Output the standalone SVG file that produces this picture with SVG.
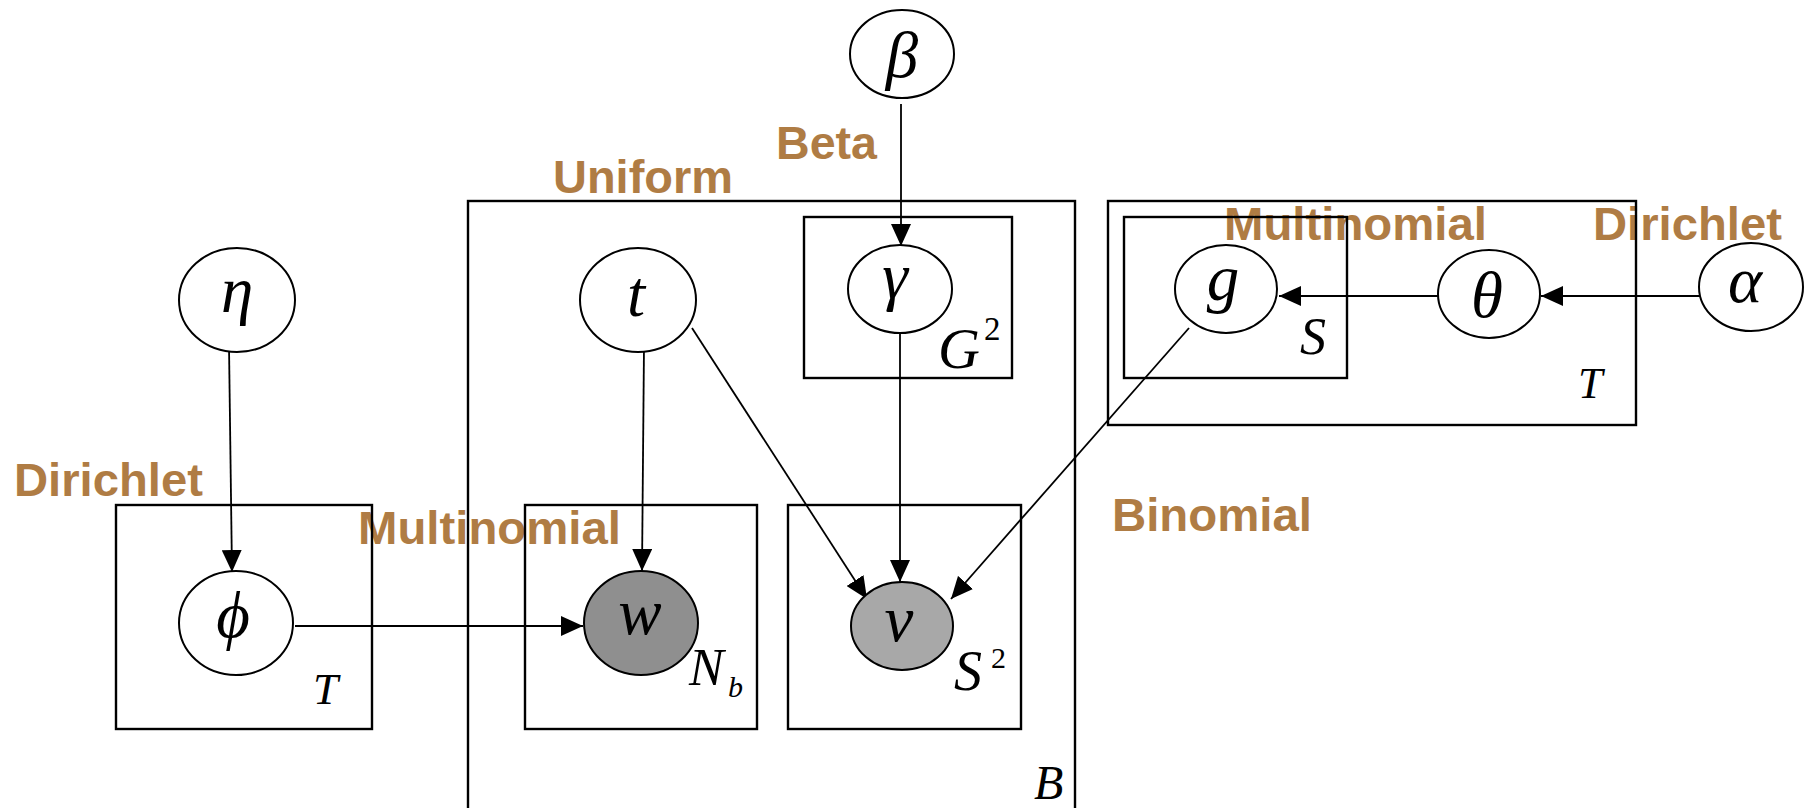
<svg xmlns="http://www.w3.org/2000/svg" width="1811" height="808" viewBox="0 0 1811 808">
  <style>
    .lbl { font-family: "Liberation Sans", Arial, sans-serif; font-weight: bold; font-size: 47px; fill: #AF7C44; }
    .plate { fill: none; stroke: #000; stroke-width: 2.4; }
    .node { fill: #fff; stroke: #000; stroke-width: 2; }
    .obs { fill: #8f8f8f; }
    .obs2 { fill: #a8a8a8; }
    .sym { font-family: "Liberation Serif", "DejaVu Serif", serif; font-style: italic; font-size: 65px; fill: #000; text-anchor: middle; }
    .pl { font-family: "Liberation Serif", "DejaVu Serif", serif; font-style: italic; fill: #000; }
    .sup { font-family: "Liberation Serif", "DejaVu Serif", serif; fill: #000; }
    .edge { stroke: #000; stroke-width: 1.8; fill: none; marker-end: url(#arrow); }
  </style>
  <defs>
    <marker id="arrow" markerUnits="userSpaceOnUse" markerWidth="22" markerHeight="20" viewBox="0 0 22 20" refX="22" refY="10" orient="auto">
      <path d="M0,0 L22,10 L0,20 z" fill="#000"/>
    </marker>
  </defs>
  <rect width="1811" height="808" fill="#fff"/>

  <!-- distribution labels -->
  <g id="labels">
    <text class="lbl" x="776" y="159" textLength="101" lengthAdjust="spacingAndGlyphs">Beta</text>
    <text class="lbl" x="553" y="193" textLength="180" lengthAdjust="spacingAndGlyphs">Uniform</text>
    <text class="lbl" x="14" y="496" textLength="189" lengthAdjust="spacingAndGlyphs">Dirichlet</text>
    <text class="lbl" x="358" y="544" textLength="263" lengthAdjust="spacingAndGlyphs">Multinomial</text>
    <text class="lbl" x="1224" y="240" textLength="263" lengthAdjust="spacingAndGlyphs">Multinomial</text>
    <text class="lbl" x="1593" y="240" textLength="189" lengthAdjust="spacingAndGlyphs">Dirichlet</text>
    <text class="lbl" x="1112" y="531" textLength="200" lengthAdjust="spacingAndGlyphs">Binomial</text>
  </g>

  <!-- plates -->
  <g id="plate-B">
    <rect class="plate" x="468" y="201" width="607" height="620"/>
    <text class="pl" x="1034" y="799" font-size="48">B</text>
  </g>
  <g id="plate-G2">
    <rect class="plate" x="804" y="217" width="208" height="161"/>
    <text class="pl" x="938" y="368" font-size="58">G</text>
    <text class="sup" x="984" y="340" font-size="33">2</text>
  </g>
  <g id="plate-T-right">
    <rect class="plate" x="1108" y="201" width="528" height="224"/>
    <text class="pl" x="1578" y="398" font-size="44">T</text>
  </g>
  <g id="plate-S">
    <rect class="plate" x="1124" y="217" width="223" height="161"/>
    <text class="pl" x="1300" y="354" font-size="52">S</text>
  </g>
  <g id="plate-T-left">
    <rect class="plate" x="116" y="505" width="256" height="224"/>
    <text class="pl" x="313" y="704" font-size="45">T</text>
  </g>
  <g id="plate-Nb">
    <rect class="plate" x="525" y="505" width="232" height="224"/>
    <text class="pl" x="689" y="685" font-size="52">N</text>
    <text class="pl" x="728" y="697" font-size="30">b</text>
  </g>
  <g id="plate-S2">
    <rect class="plate" x="788" y="505" width="233" height="224"/>
    <text class="pl" x="954" y="690" font-size="56">S</text>
    <text class="sup" x="991" y="668" font-size="30">2</text>
  </g>

  <!-- connectors -->
  <g id="connectors">
    <line class="edge" x1="901" y1="104" x2="901" y2="246"/>
    <line class="edge" x1="229" y1="346" x2="232" y2="572"/>
    <line class="edge" x1="644" y1="346" x2="642" y2="571"/>
    <line class="edge" x1="692" y1="328" x2="867" y2="599"/>
    <line class="edge" x1="900" y1="332" x2="900" y2="582"/>
    <line class="edge" x1="1189" y1="328" x2="951" y2="599"/>
    <line class="edge" x1="1444" y1="296" x2="1279" y2="296" stroke-width="2.4"/>
    <line class="edge" x1="1700" y1="296" x2="1541" y2="296" stroke-width="2.4"/>
    <line class="edge" x1="295" y1="626" x2="583" y2="626" stroke-width="2.4"/>
  </g>

  <!-- nodes -->
  <g id="node-beta">
    <ellipse class="node" cx="902" cy="54" rx="52" ry="44"/>
    <text class="sym" x="902" y="77">β</text>
  </g>
  <g id="node-eta">
    <ellipse class="node" cx="237" cy="300" rx="58" ry="52"/>
    <text class="sym" x="237" y="312">η</text>
  </g>
  <g id="node-t">
    <ellipse class="node" cx="638" cy="300" rx="58" ry="52"/>
    <text class="sym" x="636" y="316">t</text>
  </g>
  <g id="node-gamma">
    <ellipse class="node" cx="900" cy="289" rx="52" ry="44"/>
    <text class="sym" x="895" y="298">γ</text>
  </g>
  <g id="node-g">
    <ellipse class="node" cx="1226" cy="289" rx="51" ry="44"/>
    <text class="sym" x="1223" y="300">g</text>
  </g>
  <g id="node-theta">
    <ellipse class="node" cx="1489" cy="294" rx="51" ry="44"/>
    <text class="sym" x="1487" y="317">θ</text>
  </g>
  <g id="node-alpha">
    <ellipse class="node" cx="1751" cy="287" rx="52" ry="44"/>
    <text class="sym" x="1745" y="302">α</text>
  </g>
  <g id="node-phi">
    <ellipse class="node" cx="236" cy="623" rx="57" ry="52"/>
    <text class="sym" x="233" y="637">ϕ</text>
  </g>
  <g id="node-w">
    <ellipse class="node obs" cx="641" cy="623" rx="57" ry="52"/>
    <text class="sym" x="640" y="634">w</text>
  </g>
  <g id="node-v">
    <ellipse class="node obs2" cx="902" cy="626" rx="51" ry="44"/>
    <text class="sym" x="899" y="641">v</text>
  </g>
</svg>
